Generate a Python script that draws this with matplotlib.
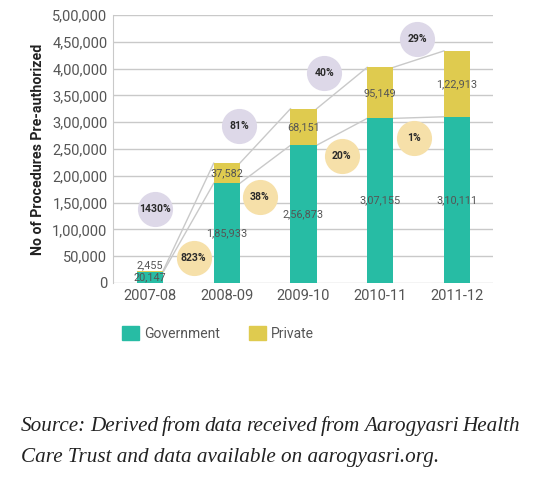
import numpy as np
import matplotlib.pyplot as plt
from matplotlib.patches import Patch

years = ['2007-08', '2008-09', '2009-10', '2010-11', '2011-12']
govt = [20147, 185933, 256873, 307155, 310111]
pvt = [2455, 37582, 68151, 95149, 122913]
pvt_growth = ['1430%', '81%', '40%', '29%']
govt_growth = ['823%', '38%', '20%', '1%']

# bubble centres: x in bar slots, y in data units
pvt_bub_x = [0.07, 1.16, 2.27, 3.48]
pvt_bub_y = [138000, 293000, 392000, 455000]
govt_bub_x = [0.57, 1.43, 2.50, 3.44]
govt_bub_y = [46600, 160000, 237000, 270500]

source = ["Source: Derived from data received from Aarogyasri Health",
          "Care Trust and data available on aarogyasri.org."]

GOV_C = '#27bca4'
PVT_C = '#dfcb4f'
PVT_BUB = '#ddd8e8'
GOV_BUB = '#f6e0a9'
GRID_C = '#c9c9c9'
TXT_C = '#555555'


def fmt_in(n):
    # indian style grouping: 1,85,933
    s = str(int(n))
    if len(s) <= 3:
        return s
    head, tail = s[:-3], s[-3:]
    parts = []
    while len(head) > 2:
        parts.insert(0, head[-2:])
        head = head[:-2]
    if head:
        parts.insert(0, head)
    return ','.join(parts) + ',' + tail


plt.rcParams['font.family'] = ['Roboto', 'DejaVu Sans']

fig = plt.figure(figsize=(5.4, 4.83), dpi=100)
ax = fig.add_axes([113/540, 1-283/483, 380/540, 268/483])

x = np.arange(len(years))
w = 0.34
total = np.array(govt) + np.array(pvt)

ax.bar(x, govt, w, color=GOV_C, zorder=3)
ax.bar(x, pvt, w, bottom=govt, color=PVT_C, zorder=3)

# connector lines between bars
for i in range(len(years) - 1):
    ax.plot([x[i] + w/2, x[i+1] - w/2], [total[i], total[i+1]], color=GRID_C, lw=1, zorder=1)
    ax.plot([x[i] + w/2, x[i+1] - w/2], [govt[i], govt[i+1]], color=GRID_C, lw=1, zorder=1)

# growth bubbles
ax.scatter(pvt_bub_x, pvt_bub_y, s=640, color=PVT_BUB, zorder=2, linewidths=0)
ax.scatter(govt_bub_x, govt_bub_y, s=640, color=GOV_BUB, zorder=2, linewidths=0)
for bx, by, t in zip(pvt_bub_x, pvt_bub_y, pvt_growth):
    ax.text(bx, by, t, ha='center', va='center', fontsize=7.5, fontweight='bold', color='#2a2a2a', zorder=4)
for bx, by, t in zip(govt_bub_x, govt_bub_y, govt_growth):
    ax.text(bx, by, t, ha='center', va='center', fontsize=7.5, fontweight='bold', color='#2a2a2a', zorder=4)

# value labels
for i in range(len(years)):
    ax.text(x[i], govt[i] / 2, fmt_in(govt[i]), ha='center', va='center', fontsize=7.8, color=TXT_C, zorder=4)
    if i == 0:
        ax.text(x[i], total[i] + 1500, fmt_in(pvt[i]), ha='center', va='bottom', fontsize=7.8, color=TXT_C, zorder=4)
    else:
        ax.text(x[i], govt[i] + pvt[i] / 2, fmt_in(pvt[i]), ha='center', va='center', fontsize=7.8, color=TXT_C, zorder=4)

ax.set_xlim(-0.482, 4.469)
ax.set_ylim(0, 500000)
yt = np.arange(0, 500001, 50000)
ax.set_yticks(yt)
ax.set_yticklabels([fmt_in(v) for v in yt])
ax.set_xticks(x)
ax.set_xticklabels(years)
ax.tick_params(length=0, labelsize=10.5, colors=TXT_C)
ax.tick_params(axis='y', pad=4)
ax.tick_params(axis='x', pad=4)
ax.grid(axis='y', color=GRID_C, lw=1, zorder=0)
ax.set_axisbelow(True)
for sp in ['top', 'right', 'bottom']:
    ax.spines[sp].set_visible(False)
ax.spines['left'].set_color(GRID_C)
ax.set_ylabel('No of Procedures Pre-authorized', fontsize=10.2, fontweight='bold', color='#222222', labelpad=5)

fig.legend(handles=[Patch(color=GOV_C, label='Government'), Patch(color=PVT_C, label='Private')],
           loc='upper left', bbox_to_anchor=(109/540, 1-313/483), ncol=2, frameon=False,
           handlelength=1.25, handleheight=1.25, handletextpad=0.35, columnspacing=2.1,
           fontsize=10, labelcolor=TXT_C)

# source note, first line justified
fig.canvas.draw()
r = fig.canvas.get_renderer()
left, right = 21, 520
words = source[0].split(' ')
arts = [fig.text(0, 0, wd, fontsize=15.2, style='italic', family='Liberation Serif', color='#222222') for wd in words]
widths = [a.get_window_extent(r).width for a in arts]
gap = (right - left - sum(widths)) / (len(words) - 1)
pos = left
for a, wd in zip(arts, widths):
    a.set_position((pos / 540, 1 - 431 / 483))
    pos += wd + gap
fig.text(left / 540, 1 - 462 / 483, source[1], fontsize=15.2, style='italic', family='Liberation Serif', color='#222222')

fig.savefig('out.png', dpi=100)
